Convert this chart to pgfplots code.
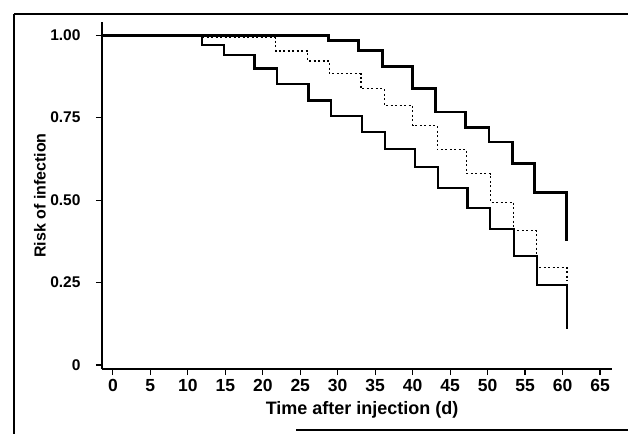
\documentclass[border=0pt]{standalone}
\usepackage{fontspec}
\setmainfont{Liberation Sans}
\usepackage{pgfplots}
\pgfplotsset{compat=1.18}

\begin{document}
\begin{tikzpicture}
\begin{axis}[
  name=ax,
  scale only axis,
  width=510pt, height=347pt,
  xmin=-1.45, xmax=66.6,
  ymin=-0.012, ymax=1.04,
  axis x line=bottom, axis y line=left,
  axis line style={-, line width=1.4pt},
  tick align=outside,
  major tick length=6pt,
  tick style={line width=1.2pt, black},
  xtick={0,5,...,65},
  xticklabels={0,5,10,15,20,25,30,35,40,45,50,55,60,65},
  ytick={0,0.25,0.5,0.75,1},
  yticklabels={0,0.25,0.50,0.75,1.00},
  xticklabel style={font=\fontsize{17.5}{20}\selectfont\bfseries, yshift=-1pt},
  yticklabel style={font=\fontsize{15.5}{18}\selectfont\bfseries, xshift=-12pt},
  xlabel={Time after injection (d)},
  ylabel={Risk of infection},
  xlabel style={font=\fontsize{18}{21}\selectfont\bfseries, at={(axis description cs:0.51,-0.118)}, anchor=center},
  ylabel style={font=\fontsize{16}{19}\selectfont\bfseries, at={(axis description cs:-0.122,0.5)}, anchor=center, rotate=0},
  clip=false,
]
% upper curve
\addplot[const plot, black, line width=2.8pt, mark=none] coordinates {
  (-1.4,1.0)(28.8,0.983)(32.8,0.954)(36.0,0.904)(40.0,0.838)(43.0,0.767)
  (47.0,0.721)(50.2,0.676)(53.3,0.610)(56.3,0.524)(60.5,0.377)};
% middle curve (dotted)
\addplot[const plot, black, line width=1.2pt, dash pattern=on 2pt off 2.5pt, mark=none] coordinates {
  (11.9,0.993)(21.7,0.952)(26.0,0.922)(28.9,0.883)(33.1,0.838)(36.2,0.787)
  (40.0,0.726)(43.3,0.653)(47.2,0.580)(50.4,0.493)(53.5,0.407)(56.5,0.296)(60.6,0.255)};
% lower curve
\addplot[const plot, black, line width=2.3pt, mark=none] coordinates {
  (-1.4,1.0)(11.9,0.970)(14.8,0.939)(18.9,0.899)(21.9,0.853)(26.1,0.802)
  (29.1,0.754)(33.2,0.706)(36.3,0.656)(40.3,0.600)(43.4,0.537)(47.3,0.476)
  (50.3,0.412)(53.5,0.331)(56.6,0.242)(60.6,0.108)};
\end{axis}
% scan frame
\draw[line width=1.4pt] ([shift={(-88pt,355pt)}]ax.south west) -- ([shift={(526pt,355pt)}]ax.south west);
\draw[line width=1.4pt] ([shift={(-88pt,355pt)}]ax.south west) -- ([shift={(-88pt,-65pt)}]ax.south west);
\draw[line width=1.4pt] ([shift={(194pt,-61pt)}]ax.south west) -- ([shift={(526pt,-61pt)}]ax.south west);
\pgfresetboundingbox
\path ([shift={(-102pt,-65pt)}]ax.south west) rectangle ([shift={(526pt,369pt)}]ax.south west);
\end{tikzpicture}
\end{document}
